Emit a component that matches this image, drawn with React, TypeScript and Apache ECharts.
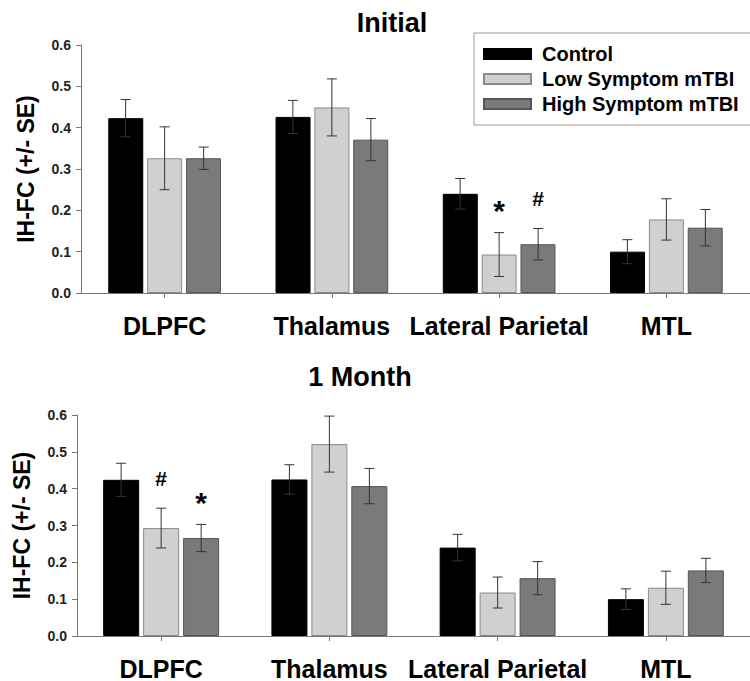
import React, { useEffect, useRef } from 'react';
import * as echarts from 'echarts';

const categories = ['DLPFC', 'Thalamus', 'Lateral Parietal', 'MTL'];
const seriesNames = ['Control', 'Low Symptom mTBI', 'High Symptom mTBI'];
const panelTitles = ['Initial', '1 Month'];
const yAxisName = 'IH-FC (+/- SE)';

// Initial
const initialControl = [0.423, 0.426, 0.24, 0.1];
const initialControlSE = [0.045, 0.04, 0.037, 0.029];
const initialLow = [0.326, 0.449, 0.093, 0.178];
const initialLowSE = [0.076, 0.069, 0.053, 0.05];
const initialHigh = [0.326, 0.371, 0.118, 0.158];
const initialHighSE = [0.027, 0.051, 0.038, 0.044];
const initialMarkers = [
  ['', '', '', ''],
  ['', '', '*', ''],
  ['', '', '#', ''],
];

// 1 Month
const monthControl = [0.424, 0.425, 0.24, 0.1];
const monthControlSE = [0.045, 0.04, 0.036, 0.028];
const monthLow = [0.293, 0.521, 0.118, 0.131];
const monthLowSE = [0.054, 0.076, 0.042, 0.045];
const monthHigh = [0.266, 0.407, 0.157, 0.178];
const monthHighSE = [0.037, 0.048, 0.045, 0.033];
const monthMarkers = [
  ['', '', '', ''],
  ['#', '', '', ''],
  ['*', '', '', ''],
];

const FONT = '"Liberation Sans", Arial, sans-serif';
const barFill = ['#000000', '#d0d0d0', '#7a7a7a'];
const barBorder = ['#000000', '#8a8a8a', '#555555'];

export default function App() {
  const ref = useRef<HTMLDivElement>(null);
  useEffect(() => {
    if (!ref.current) return;
    const chart = echarts.init(ref.current, undefined, { renderer: 'svg' });

    const panels = [
      { means: [initialControl, initialLow, initialHigh], ses: [initialControlSE, initialLowSE, initialHighSE], markers: initialMarkers, barWidth: 35, step: 39 },
      { means: [monthControl, monthLow, monthHigh], ses: [monthControlSE, monthLowSE, monthHighSE], markers: monthMarkers, barWidth: 36, step: 40 },
    ];

    const series: any[] = [];
    panels.forEach((p, gi) => {
      p.means.forEach((vals, si) => {
        series.push({
          type: 'bar',
          name: seriesNames[si],
          xAxisIndex: gi,
          yAxisIndex: gi,
          data: vals,
          barWidth: p.barWidth,
          barGap: '11%',
          itemStyle: { color: barFill[si], borderColor: barBorder[si], borderWidth: 1 },
          z: 2,
        });
      });
      p.means.forEach((vals, si) => {
        const offset = (si - 1) * p.step;
        const marks = p.markers[si];
        series.push({
          type: 'custom',
          name: 'err-' + gi + '-' + si,
          xAxisIndex: gi,
          yAxisIndex: gi,
          z: 5,
          data: vals.map((v, i) => [i, v, p.ses[si][i]]),
          renderItem: (params: any, api: any) => {
            const cat = api.value(0);
            const v = api.value(1);
            const se = api.value(2);
            const top = api.coord([cat, v + se]);
            const bot = api.coord([cat, v - se]);
            const x = top[0] + offset;
            const st = { stroke: '#333333', lineWidth: 1 };
            const children: any[] = [
              { type: 'line', shape: { x1: x, y1: top[1], x2: x, y2: bot[1] }, style: st },
              { type: 'line', shape: { x1: x - 5, y1: top[1], x2: x + 5, y2: top[1] }, style: st },
              { type: 'line', shape: { x1: x - 5, y1: bot[1], x2: x + 5, y2: bot[1] }, style: st },
            ];
            const m = marks[params.dataIndex];
            if (m) {
              const isStar = m === '*';
              children.push({
                type: 'text',
                x: x,
                y: top[1] - 30 + (isStar ? 8 : 0),
                style: {
                  text: m,
                  fontSize: isStar ? 30 : 21,
                  fontWeight: 'bold',
                  fontFamily: FONT,
                  fill: '#000',
                  align: 'center',
                  verticalAlign: 'middle',
                },
              });
            }
            return { type: 'group', children };
          },
        });
      });
    });

    const grids = [
      { left: 81, top: 45, width: 676, height: 248 },
      { left: 77, top: 415, width: 687, height: 221 },
    ];

    const option: any = {
      animation: false,
      backgroundColor: '#ffffff',
      textStyle: { fontFamily: FONT },
      title: [
        { text: panelTitles[0], left: 392, top: 9, textAlign: 'center', padding: 0, textStyle: { fontSize: 27, fontWeight: 'bold', color: '#000', fontFamily: FONT } },
        { text: panelTitles[1], left: 360, top: 363, textAlign: 'center', padding: 0, textStyle: { fontSize: 27, fontWeight: 'bold', color: '#000', fontFamily: FONT } },
      ],
      legend: {
        data: seriesNames,
        orient: 'vertical',
        left: 474,
        top: 33,
        padding: [11, 12, 11, 9],
        borderColor: '#999999',
        borderWidth: 1,
        itemWidth: 47,
        itemHeight: 10,
        itemGap: 5,
        icon: 'rect',
        selectedMode: false,
        textStyle: { fontSize: 20, fontWeight: 'bold', color: '#000', fontFamily: FONT, lineHeight: 20, padding: [0, 0, 0, 6] },
      },
      grid: grids,
      xAxis: grids.map((_, gi) => ({
        type: 'category',
        gridIndex: gi,
        data: categories,
        axisLine: { show: true, lineStyle: { color: '#777777', width: 1 } },
        axisTick: { show: true, alignWithLabel: true, length: 5, lineStyle: { color: '#777777' } },
        axisLabel: { fontSize: 25, fontWeight: 'bold', color: '#000', fontFamily: FONT, margin: 20, interval: 0 },
        splitLine: { show: false },
      })),
      yAxis: grids.map((_, gi) => ({
        type: 'value',
        gridIndex: gi,
        min: 0,
        max: 0.6,
        interval: 0.1,
        name: yAxisName,
        nameLocation: 'middle',
        nameRotate: 90,
        nameGap: 44,
        nameTextStyle: { fontSize: 23, fontWeight: 'bold', color: '#000', fontFamily: FONT },
        axisLine: { show: true, lineStyle: { color: '#777777', width: 1 } },
        axisTick: { show: true, length: 5, lineStyle: { color: '#777777' } },
        axisLabel: { fontSize: 14, fontWeight: 'bold', color: '#222', fontFamily: FONT, margin: 10, formatter: (v: number) => v.toFixed(1) },
        splitLine: { show: false },
      })),
      series,
    };
    chart.setOption(option);
    return () => chart.dispose();
  }, []);
  return <div ref={ref} style={{ position: 'fixed', left: 0, top: 0, width: 750, height: 681 }} />;
}
